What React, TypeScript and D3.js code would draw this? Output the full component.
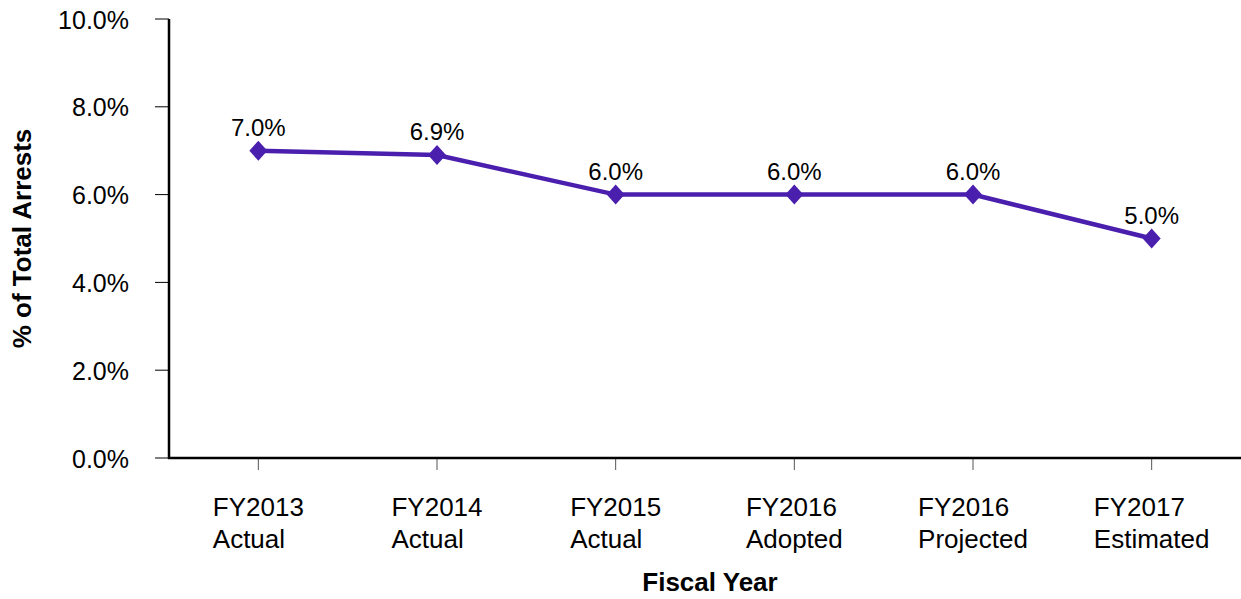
import React from "react";
import * as d3 from "d3";

const categories: string[][] = [
  ["FY2013", "Actual"],
  ["FY2014", "Actual"],
  ["FY2015", "Actual"],
  ["FY2016", "Adopted"],
  ["FY2016", "Projected"],
  ["FY2017", "Estimated"],
];
const values: number[] = [7.0, 6.9, 6.0, 6.0, 6.0, 5.0];
const yTicks: number[] = [0, 2, 4, 6, 8, 10];

const W = 1241;
const H = 599;
const margin = { left: 169, right: 0, top: 19, bottom: 141 };
const color = "#4B1FAE";
const font = "Liberation Sans, Arial, sans-serif";
const catFontSize = 26;

let ctx: CanvasRenderingContext2D | null = null;
function measure(s: string): number {
  if (!ctx) {
    const c = document.createElement("canvas");
    ctx = c.getContext("2d");
  }
  if (!ctx) return s.length * catFontSize * 0.55;
  ctx.font = `${catFontSize}px "Liberation Sans", Arial, sans-serif`;
  return ctx.measureText(s).width;
}

export default function App() {
  const x = d3
    .scaleBand<number>()
    .domain(categories.map((_, i) => i))
    .range([margin.left, W - margin.right]);
  const y = d3.scaleLinear().domain([0, 10]).range([H - margin.bottom, margin.top]);
  const cx = (i: number) => (x(i) as number) + x.bandwidth() / 2;
  const line = d3
    .line<number>()
    .x((_, i) => cx(i))
    .y((d) => y(d));
  const y0 = y(0);
  const dw = 9;
  const dh = 10;

  return (
    <svg
      width={W}
      height={H}
      style={{ position: "absolute", left: 0, top: 0, background: "#fff" }}
      fontFamily={font}
    >
      {/* y ticks */}
      {yTicks.map((t) => (
        <g key={t}>
          <line x1={155} x2={169} y1={y(t)} y2={y(t)} stroke="#000" strokeWidth={1} />
          <text x={129} y={y(t) + 9.5} textAnchor="end" fontSize={25} fill="#000">
            {t.toFixed(1)}%
          </text>
        </g>
      ))}
      {/* x ticks */}
      {categories.map((c, i) => {
        const bw = Math.max(measure(c[0]), measure(c[1]));
        const lx = cx(i) - bw / 2;
        return (
          <g key={i}>
            <line x1={cx(i)} x2={cx(i)} y1={y0} y2={y0 + 12} stroke="#555" strokeWidth={1} />
            <text x={lx} y={516} textAnchor="start" fontSize={catFontSize} fill="#000">
              {c[0]}
            </text>
            <text x={lx} y={548} textAnchor="start" fontSize={catFontSize} fill="#000">
              {c[1]}
            </text>
          </g>
        );
      })}
      {/* axes */}
      <line x1={169} x2={169} y1={y(10)} y2={y0 + 1} stroke="#000" strokeWidth={2.5} />
      <line x1={168} x2={W} y1={y0} y2={y0} stroke="#000" strokeWidth={2.5} />
      {/* series */}
      <path d={line(values) || ""} fill="none" stroke={color} strokeWidth={4.5} />
      {values.map((v, i) => (
        <g key={i}>
          <path
            d={`M${cx(i)},${y(v) - dh}L${cx(i) + dw},${y(v)}L${cx(i)},${y(v) + dh}L${cx(i) - dw},${y(v)}Z`}
            fill={color}
          />
          <text x={cx(i)} y={y(v) - 15} textAnchor="middle" fontSize={24} fill="#000">
            {v.toFixed(1)}%
          </text>
        </g>
      ))}
      {/* titles */}
      <text
        transform={`translate(31,${(y(10) + y0) / 2}) rotate(-90)`}
        textAnchor="middle"
        fontSize={26}
        fontWeight="bold"
        fill="#000"
      >
        % of Total Arrests
      </text>
      <text x={710} y={591} textAnchor="middle" fontSize={26} fontWeight="bold" fill="#000">
        Fiscal Year
      </text>
    </svg>
  );
}
